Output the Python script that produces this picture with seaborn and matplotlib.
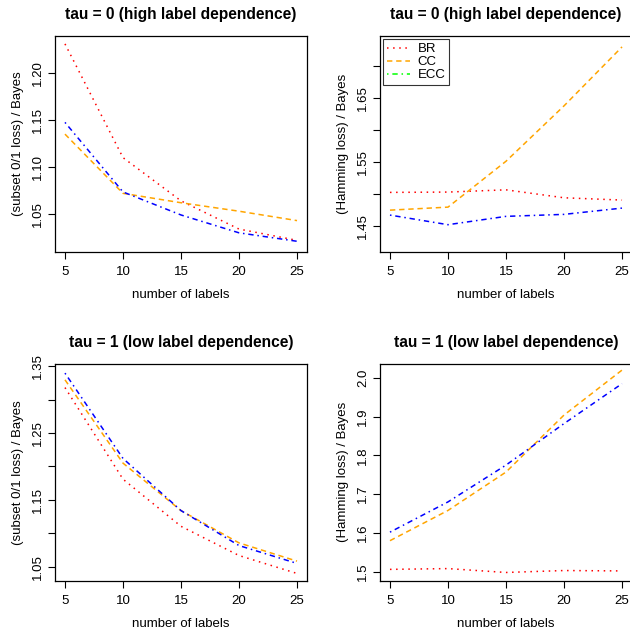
import numpy as np
import pandas as pd
import matplotlib
matplotlib.use("Agg")
import matplotlib.pyplot as plt
from matplotlib.lines import Line2D
import seaborn as sns

# --- data ---
n_labels = [5, 10, 15, 20, 25]
methods = ["BR", "CC", "ECC"]

# tau = 0, subset 0/1 loss / Bayes
sub0_br = [1.231, 1.110, 1.064, 1.034, 1.022]
sub0_cc = [1.135, 1.072, 1.062, 1.053, 1.043]
sub0_ecc = [1.1475, 1.0735, 1.049, 1.030, 1.021]

# tau = 0, Hamming loss / Bayes
ham0_br = [1.503, 1.5035, 1.507, 1.4946, 1.491]
ham0_cc = [1.4753, 1.480, 1.5516, 1.638, 1.730]
ham0_ecc = [1.4676, 1.4526, 1.4656, 1.4687, 1.4785]

# tau = 1, subset 0/1 loss / Bayes
sub1_br = [1.318, 1.181, 1.1105, 1.0668, 1.040]
sub1_cc = [1.3296, 1.205, 1.134, 1.0857, 1.0584]
sub1_ecc = [1.3396, 1.212, 1.134, 1.0817, 1.055]

# tau = 1, Hamming loss / Bayes
ham1_br = [1.506, 1.508, 1.498, 1.503, 1.502]
ham1_cc = [1.580, 1.658, 1.757, 1.904, 2.020]
ham1_ecc = [1.602, 1.680, 1.775, 1.882, 1.985]

titles = ["tau = 0 (high label dependence)", "tau = 0 (high label dependence)",
          "tau = 1 (low label dependence)", "tau = 1 (low label dependence)"]
ylabels = ["(subset 0/1 loss) / Bayes", "(Hamming loss) / Bayes",
           "(subset 0/1 loss) / Bayes", "(Hamming loss) / Bayes"]

sns.set_style("ticks")
plt.rcParams['font.family'] = ['Liberation Sans', 'DejaVu Sans']
plt.rcParams['text.color'] = 'black'
plt.rcParams['axes.labelcolor'] = 'black'
plt.rcParams['xtick.color'] = 'black'
plt.rcParams['ytick.color'] = 'black'

palette = {"BR": "#FF0000", "CC": "#FFA500", "ECC": "#0000FF"}
dashes = {"BR": (1, 3), "CC": (3.5, 2.5), "ECC": (1, 2.5, 3.5, 2.5)}


def make_df(br, cc, ecc):
    rows = []
    for m, vals in zip(methods, [br, cc, ecc]):
        for x, v in zip(n_labels, vals):
            rows.append({"labels": x, "ratio": v, "method": m})
    return pd.DataFrame(rows)


panels = [
    make_df(sub0_br, sub0_cc, sub0_ecc),
    make_df(ham0_br, ham0_cc, ham0_ecc),
    make_df(sub1_br, sub1_cc, sub1_ecc),
    make_df(ham1_br, ham1_cc, ham1_ecc),
]

# panel geometry in pixels (left, top, right, bottom)
W, H = 630, 632
boxes = [(55, 36, 307, 252), (380, 36, 632, 252),
         (55, 363.5, 307, 581), (380, 363.5, 632, 581)]
ylims = [(1.0096, 1.2394), (1.41, 1.747), (1.0287, 1.354), (1.476, 2.037)]
yticks = [[1.05, 1.10, 1.15, 1.20],
          [1.45, 1.50, 1.55, 1.60, 1.65, 1.70],
          [1.05, 1.10, 1.15, 1.20, 1.25, 1.30, 1.35],
          [1.5, 1.6, 1.7, 1.8, 1.9, 2.0]]
ytlabels = [["1.05", "1.10", "1.15", "1.20"],
            ["1.45", "", "1.55", "", "1.65", ""],
            ["1.05", "", "1.15", "", "1.25", "", "1.35"],
            ["1.5", "1.6", "1.7", "1.8", "1.9", "2.0"]]

fig = plt.figure(figsize=(6.3, 6.32), dpi=100)

for i, df in enumerate(panels):
    l, t, r, b = boxes[i]
    ax = fig.add_axes([l / W, 1 - b / H, (r - l) / W, (b - t) / H])
    sns.lineplot(data=df, x="labels", y="ratio", hue="method", style="method",
                 palette=palette, dashes=dashes, linewidth=1.1, legend=False, ax=ax)
    ax.set_xlim(4.14, 25.86)
    ax.set_ylim(*ylims[i])
    ax.set_xticks(n_labels)
    ax.set_xticklabels([str(x) for x in n_labels])
    ax.set_yticks(yticks[i])
    ax.set_yticklabels(ytlabels[i], rotation=90, va="center")
    ax.tick_params(axis="both", direction="out", length=5, width=0.8,
                   labelsize=9.5, color="black", pad=3)
    ax.tick_params(axis="x", pad=5)
    for s in ax.spines.values():
        s.set_visible(True)
        s.set_color("black")
        s.set_linewidth(0.9)
    ax.set_xlabel("number of labels", fontsize=9.5, labelpad=8)
    ax.set_ylabel(ylabels[i], fontsize=9.5, labelpad=6)
    ax.set_title(titles[i], fontsize=11.2, fontweight="bold", pad=12)

    if i == 1:
        handles = [
            Line2D([0], [0], color="#FF0000", lw=1.1, dashes=dashes["BR"]),
            Line2D([0], [0], color="#FFA500", lw=1.1, dashes=dashes["CC"]),
            Line2D([0], [0], color="#00FF00", lw=1.1, dashes=dashes["ECC"]),
        ]
        leg = ax.legend(handles, methods, loc="upper left", fontsize=9.5,
                        frameon=True, fancybox=False, handlelength=1.7,
                        labelspacing=0.05, borderpad=0.3, handletextpad=0.6,
                        borderaxespad=0.25)
        leg.get_frame().set_edgecolor("black")
        leg.get_frame().set_linewidth(0.8)

fig.savefig("out.png", dpi=100)
